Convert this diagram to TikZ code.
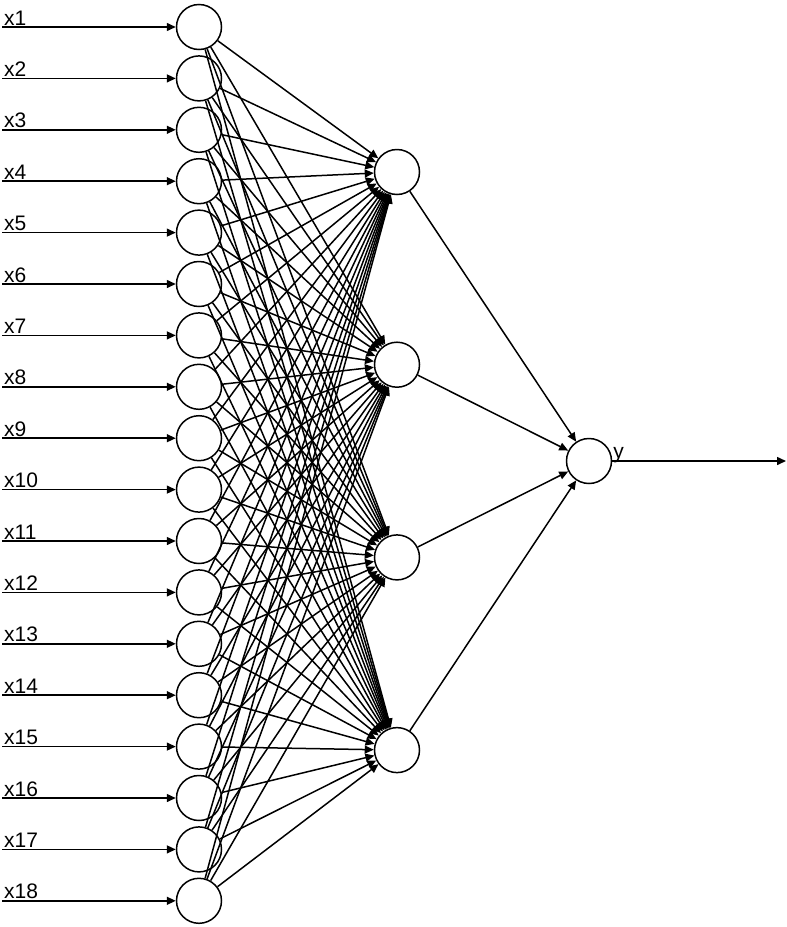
\documentclass[tikz,border=0pt]{standalone}
\usepackage{fontspec}
\setmainfont{Liberation Sans}
\usetikzlibrary{arrows.meta,positioning,calc}

\tikzset{
  neuron/.style={circle,draw,line width=1.5pt,minimum size=45pt,inner sep=0pt},
  link/.style={->,line width=1.5pt},
  inlabel/.style={anchor=base west,inner sep=0pt,font=\fontsize{21}{23}\selectfont},
}

\begin{document}
\begin{tikzpicture}[x=1pt,y=-1pt,>={Triangle[length=9pt,width=8pt]}]
  \useasboundingbox (0,0) rectangle (787,927);
  % input layer
  \foreach \i in {1,...,18} {
    \node[neuron] (in\i) at (199,{27+(\i-1)*51.4}) {};
    \coordinate (src\i) at (2,{27+(\i-1)*51.4});
    \draw[link] (src\i) -- (in\i);
    \node[inlabel] (lab\i) at ([shift={(2,-2)}]src\i) {x\i};
  }
  % hidden layer
  \foreach \j in {1,...,4} {
    \node[neuron] (hid\j) at (397,{172+(\j-1)*192.7}) {};
  }
  % output
  \node[neuron] (out) at (589,461) {};
  \coordinate (yend) at (786,461);
  \node[anchor=base west,inner sep=0pt,font=\fontsize{21}{23}\selectfont] (ylab) at ([shift={(1,-3)}]out.east) {y};
  % connections
  \foreach \i in {1,...,18} {
    \foreach \j in {1,...,4} {
      \draw[link] (in\i) -- (hid\j);
    }
  }
  \foreach \j in {1,...,4} {
    \draw[link] (hid\j) -- (out);
  }
  \draw[link] (out.east) -- (yend);
\end{tikzpicture}
\end{document}
